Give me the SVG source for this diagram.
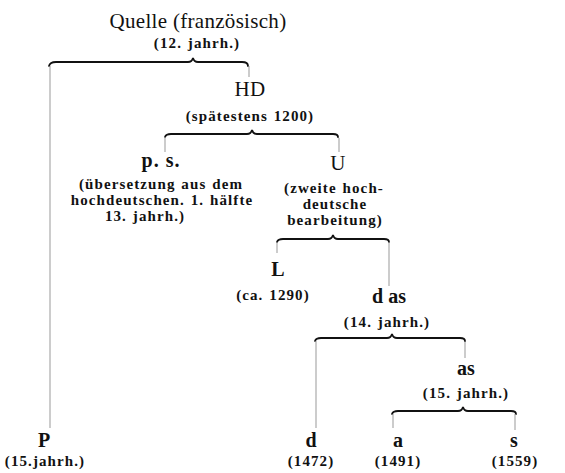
<svg xmlns="http://www.w3.org/2000/svg" width="565" height="473" viewBox="0 0 565 473">
<style>
text{font-family:"Liberation Serif","Times New Roman","DejaVu Serif",serif;fill:#111;text-anchor:middle}
.big{font-size:21px;letter-spacing:0.3px}
.bb{font-size:20px;font-weight:bold}
.sm{font-size:15px;font-weight:bold;letter-spacing:1.1px;word-spacing:1px}
.brace{fill:none;stroke:#111;stroke-width:1.8;stroke-linecap:round}
.ln{stroke:#999;stroke-width:1}
</style>
<rect width="565" height="473" fill="#fff"/>
<g id="connectors">
<path class="brace" d="M49,66 Q50,62 56,62 L188,62 Q192,62 193,58 Q194,62 198,62 L242,62 Q248,62 248,66"/>
<path class="brace" d="M165,137 Q166,134 171,134 L247,134 Q251,134 252,130 Q253,134 257,134 L333,134 Q338,134 338,137"/>
<path class="brace" d="M277,242 Q278,239 283,239 L328,239 Q332,239 333,235 Q334,239 338,239 L384,239 Q389,239 389,242"/>
<path class="brace" d="M315,341 Q316,338 321,338 L387,338 Q391,338 392,334 Q393,338 397,338 L460,338 Q465,338 465,341"/>
<path class="brace" d="M392,414 Q393,411 398,411 L458,411 Q462,411 463,407 Q464,411 468,411 L511,411 Q516,411 516,414"/>
<line class="ln" x1="50" y1="66" x2="50" y2="428"/>
<line class="ln" x1="249" y1="66" x2="249" y2="77"/>
<line class="ln" x1="165" y1="137" x2="165" y2="152"/>
<line class="ln" x1="339" y1="138" x2="339" y2="152"/>
<line class="ln" x1="277" y1="242" x2="277" y2="253"/>
<line class="ln" x1="389" y1="242" x2="389" y2="286"/>
<line class="ln" x1="316" y1="341" x2="316" y2="428"/>
<line class="ln" x1="465" y1="342" x2="465" y2="358"/>
<line class="ln" x1="393" y1="414" x2="393" y2="428"/>
<line class="ln" x1="515" y1="414" x2="515" y2="430"/>
</g>
<g id="quelle"><text class="big" x="198" y="28">Quelle (französisch)</text><text class="sm" x="197" y="48">(12. jahrh.)</text></g>
<g id="HD"><text class="big" x="250" y="96">HD</text><text class="sm" x="250" y="121">(spätestens 1200)</text></g>
<g id="ps"><text class="bb" x="161" y="167" style="letter-spacing:1px">p. s.</text><text class="sm" x="161" y="189">(übersetzung aus dem</text><text class="sm" x="162" y="205">hochdeutschen. 1. hälfte</text><text class="sm" x="145" y="221">13. jahrh.)</text></g>
<g id="U"><text class="big" x="338" y="170">U</text><text class="sm" x="334" y="193">(zweite hoch-</text><text class="sm" x="335" y="209">deutsche</text><text class="sm" x="335" y="225">bearbeitung)</text></g>
<g id="L"><text class="bb" x="278" y="276">L</text><text class="sm" x="273" y="300">(ca. 1290)</text></g>
<g id="das"><text class="bb" x="389" y="303">d as</text><text class="sm" x="387" y="327">(14. jahrh.)</text></g>
<g id="as"><text class="bb" x="466" y="375">as</text><text class="sm" x="466" y="398">(15. jahrh.)</text></g>
<g id="P"><text class="bb" x="44" y="447">P</text><text class="sm" x="45" y="466">(15.jahrh.)</text></g>
<g id="d"><text class="bb" x="311" y="447">d</text><text class="sm" x="311" y="466">(1472)</text></g>
<g id="a"><text class="bb" x="398" y="447">a</text><text class="sm" x="398" y="466">(1491)</text></g>
<g id="s"><text class="bb" x="514" y="447">s</text><text class="sm" x="515" y="466">(1559)</text></g>
</svg>
